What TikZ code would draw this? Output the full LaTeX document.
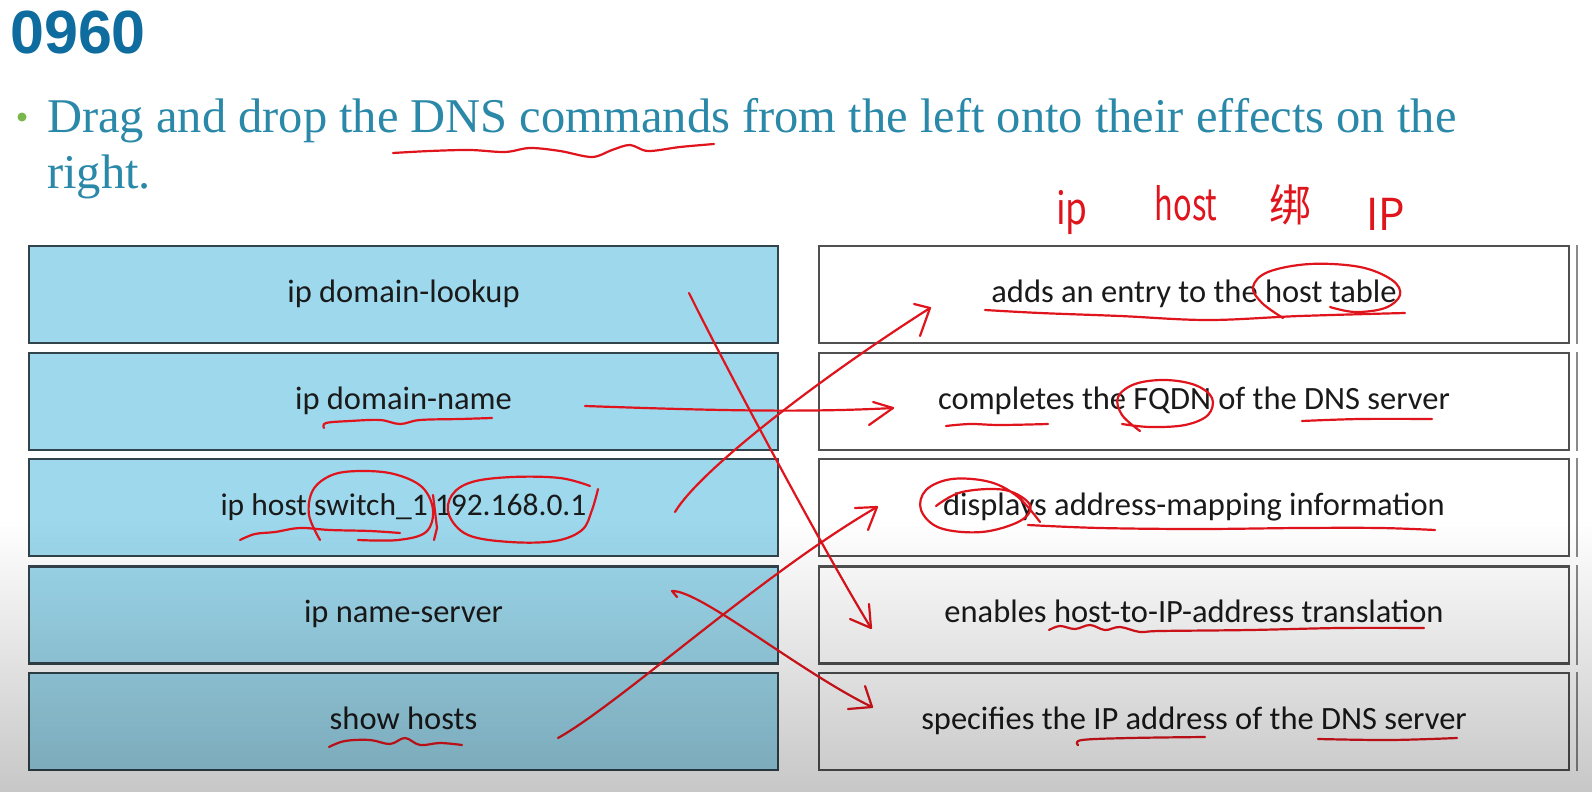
\documentclass[tikz,border=0pt]{standalone}
\usepackage{fontspec}
\usepackage{graphicx}
\setmainfont{Liberation Serif}
\newfontfamily\boxfont{Carlito}
\newfontfamily\titlefont{Liberation Sans}
\newfontfamily\handfont{Noto Sans CJK SC}
\usetikzlibrary{fadings}
\definecolor{titleblue}{HTML}{0E6C9F}
\definecolor{prompt}{HTML}{2A88A8}
\definecolor{dotgreen}{HTML}{78B84A}
\definecolor{cmdfill}{HTML}{9DD8EC}
\definecolor{cmdedge}{HTML}{33434B}
\definecolor{fxedge}{HTML}{505050}
\definecolor{sidegrey}{HTML}{8A8A8A}
\definecolor{boxtext}{HTML}{1A1A1A}
\definecolor{inkred}{HTML}{E0141C}
\tikzfading[name=shadebottom, top color=transparent!100, bottom color=transparent!78]
\newcommand\handnarrow[2][0.62]{\scalebox{#1}[1]{#2}}

\begin{document}
\begin{tikzpicture}[x=1pt,y=-1pt,
  cmd/.style={draw=cmdedge, fill=cmdfill, line width=2.4pt, minimum width=749pt,
    minimum height=97pt, inner sep=0pt, text=boxtext,
    font=\boxfont\fontsize{32.5}{38}\selectfont, text height=22pt, text depth=7pt},
  fx/.style={cmd, draw=fxedge, fill=white, minimum width=750pt},
  sideline/.style={draw=sidegrey, line width=2.2pt},
  ink/.style={draw=inkred, line width=2.2pt, line cap=round, line join=round},
  hand/.style={text=inkred, inner sep=0pt, font=\handfont\fontsize{44}{48}\selectfont},
  prompttext/.style={anchor=base west, inner sep=0pt, text=prompt,
    font=\fontsize{48.5}{56}\selectfont}
]
\useasboundingbox (0,0) rectangle (1595,792);
\fill[white] (0,0) rectangle (1595,792);

% heading and instruction
\node[anchor=base west, inner sep=0pt, text=titleblue,
  font=\titlefont\bfseries\fontsize{61}{64}\selectfont] (title) at (10,53) {0960};
\fill[dotgreen] (22,117) circle (4.5);
\node[prompttext] (q1) at (47,132) {Drag and drop the DNS commands from the left onto their effects on the};
\node[prompttext] (q2) at (47,188) {right.};

% commands (left column)
\node[cmd] (c1) at (403.5,294.5) {ip domain-lookup};
\node[cmd] (c2) at (403.5,401.5) {ip domain-name};
\node[cmd, font=\boxfont\fontsize{31.5}{38}\selectfont] (c3) at (403.5,507.5) {ip host switch\_1 192.168.0.1};
\node[cmd] (c4) at (403.5,615) {ip name-server};
\node[cmd] (c5) at (403.5,721.5) {show hosts};

% effects (right column)
\node[fx] (e1) at (1194,294.5) {adds an entry to the host table};
\node[fx] (e2) at (1194,401.5) {completes the FQDN of the DNS server};
\node[fx] (e3) at (1194,507.5) {displays address-mapping information};
\node[fx] (e4) at (1194,615) {enables host-to-IP-address translation};
\node[fx] (e5) at (1194,721.5) {specifies the IP address of the DNS server};
\foreach \n in {e1,e2,e3,e4,e5}
  \draw[sideline] ([xshift=7pt]\n.north east) -- ([xshift=7pt]\n.south east);

% handwritten note
\node[hand] (h1) at (1072,212) {\handnarrow[0.8]{ip}};
\node[hand] (h2) at (1186,203) {\handnarrow[0.7]{host}};
\node[hand] (h3) at (1290,205) {\handnarrow[0.95]{绑}};
\node[hand] (h4) at (1386,214) {\handnarrow[0.95]{IP}};

% underline under the instruction
\draw[ink] plot[smooth, tension=0.55] coordinates {(393,153) (430,151) (470,150) (505,152)
  (530,148) (560,151) (592,157) (612,150) (630,145) (648,151) (680,147) (714,144)};

% answer arrows
\coordinate (a1s) at (689,293);  \coordinate (a1t) at (871,628);
\draw[ink] (a1s) .. controls (722,360) and (822,548) .. (a1t);
\draw[ink] (850,619) -- (a1t) -- (869,604);

\coordinate (a2s) at (585,406);  \coordinate (a2t) at (893,408);
\draw[ink] (a2s) .. controls (700,410) and (800,413) .. (a2t);
\draw[ink] (873,402) -- (a2t) -- (869,425);

\coordinate (a3s) at (675,512);  \coordinate (a3t) at (930,308);
\draw[ink] (a3s) .. controls (700,470) and (820,378) .. (a3t);
\draw[ink] (914,304) -- (a3t) -- (920,336);

\coordinate (a4s) at (677,597);  \coordinate (a4t) at (872,707);
\draw[ink] (a4s) -- (672,591) .. controls (700,590) and (800,672) .. (a4t);
\draw[ink] (865,686) -- (a4t) -- (848,709);

\coordinate (a5s) at (558,738);  \coordinate (a5t) at (877,507);
\draw[ink] (a5s) .. controls (622,702) and (760,575) .. (a5t);
\draw[ink] (855,508) -- (a5t) -- (868,530);

% marks on the commands
\draw[ink] plot[smooth, tension=0.6] coordinates {(324,428) (326,423) (350,421) (380,420)
  (400,424) (420,420) (460,419) (492,418)};
\draw[ink] plot[smooth, tension=0.6] coordinates {(240,540) (255,534) (275,532) (300,528)
  (330,530) (370,531) (400,533)};
\draw[ink] plot[smooth, tension=0.6] coordinates {(320,540) (309,515) (313,490) (332,475)
  (360,471) (394,474) (422,487) (433,510) (426,532) (398,540) (358,540)};
\draw[ink] (433,495) -- (437,528) -- (434,540);
\draw[ink] plot[smooth, tension=0.6] coordinates {(598,489) (592,510) (582,530) (555,541)
  (510,542) (468,535) (449,515) (452,495) (472,482) (512,477) (560,478) (590,486)};
\draw[ink] plot[smooth, tension=0.6] coordinates {(329,747) (345,741) (370,740) (390,744)
  (405,738) (420,745) (440,743) (462,745)};

% marks on the effects
\draw[ink] plot[smooth, tension=0.6] coordinates {(985,310) (1040,313) (1120,316)
  (1208,320) (1300,316) (1405,313)};
\draw[ink] plot[smooth, tension=0.6] coordinates {(1283,318) (1262,303) (1253,287)
  (1268,272) (1310,264) (1360,267) (1392,280) (1400,295) (1385,308) (1355,312) (1330,307)};
\draw[ink] plot[smooth, tension=0.6] coordinates {(946,426) (970,424) (1000,425) (1048,424)};
\draw[ink] plot[smooth, tension=0.6] coordinates {(1140,431) (1122,415) (1118,397)
  (1135,384) (1165,380) (1195,385) (1212,398) (1208,415) (1185,425) (1150,427) (1122,424)};
\draw[ink] plot[smooth, tension=0.6] coordinates {(1302,421) (1360,419) (1432,419)};
\draw[ink] plot[smooth, tension=0.6] coordinates {(1040,522) (1018,497) (990,482) (952,479)
  (926,490) (921,510) (940,528) (982,532) (1020,521) (1030,505) (1005,490) (962,492) (936,506)};
\draw[ink] plot[smooth, tension=0.6] coordinates {(1028,525) (1100,528) (1200,529)
  (1300,528) (1380,528) (1435,530)};
\draw[ink] plot[smooth, tension=0.6] coordinates {(1049,630) (1060,626) (1075,629) (1090,625)
  (1105,630) (1120,627) (1140,632) (1160,631) (1250,630) (1340,628) (1424,628)};
\draw[ink] plot[smooth, tension=0.6] coordinates {(1078,745) (1082,740) (1130,738) (1205,737)};
\draw[ink] plot[smooth, tension=0.6] coordinates {(1318,739) (1390,740) (1457,738)};

% darkening towards the bottom edge
\fill[black, path fading=shadebottom] (0,520) rectangle (1595,792);
\end{tikzpicture}
\end{document}
